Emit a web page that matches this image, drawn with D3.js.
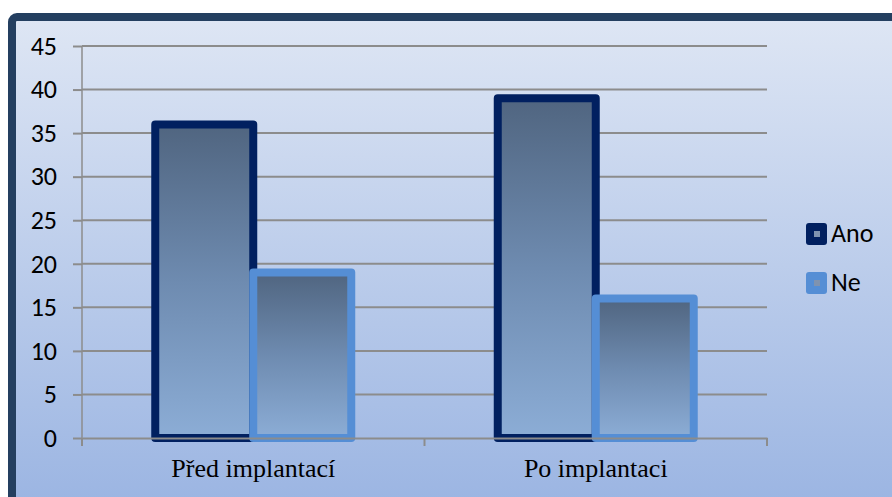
<!DOCTYPE html>
<html>
<head>
<meta charset="utf-8">
<script src="https://cdn.jsdelivr.net/npm/d3@7"></script>
<style>
  body { margin: 0; background: #fff; }
  svg { display: block; }
</style>
</head>
<body>
<svg id="chart"></svg>
<script>
// data
const categories = ["Před implantací", "Po implantaci"];
const seriesNames = ["Ano", "Ne"];
const anoValues = [36, 39];
const neValues = [19, 16];
const yTicks = [0, 5, 10, 15, 20, 25, 30, 35, 40, 45];

const width = 892, height = 497;
const plotLeft = 82, plotRight = 767, plotTop = 46, plotBottom = 438;
const seriesColors = ["#012060", "#558ED5"];

const svg = d3.select("#chart").attr("width", width).attr("height", height);
const defs = svg.append("defs");

let bg = defs.append("linearGradient").attr("id", "bg").attr("x1", 0).attr("y1", 0).attr("x2", 0).attr("y2", 1);
bg.append("stop").attr("offset", "0%").attr("stop-color", "#DEE6F4");
bg.append("stop").attr("offset", "100%").attr("stop-color", "#9AB4E2");

let barGrad = defs.append("linearGradient").attr("id", "barGrad").attr("x1", 0).attr("y1", 0).attr("x2", 0).attr("y2", 1);
barGrad.append("stop").attr("offset", "0%").attr("stop-color", "#506580");
barGrad.append("stop").attr("offset", "50%").attr("stop-color", "#6E8BB0");
barGrad.append("stop").attr("offset", "100%").attr("stop-color", "#8CADD6");

// frame (cut off on right and bottom)
svg.append("rect")
    .attr("x", 12).attr("y", 17)
    .attr("width", width + 20).attr("height", height)
    .attr("rx", 5)
    .attr("fill", "url(#bg)")
    .attr("stroke", "#243F60")
    .attr("stroke-width", 8);

const x0 = d3.scaleBand().domain(categories).range([plotLeft, plotRight]).paddingInner(0).paddingOuter(0);
const x1 = d3.scaleBand().domain(seriesNames).range([0, 196]);
const y = d3.scaleLinear().domain([0, 45]).range([plotBottom, plotTop]);

// gridlines
svg.append("g")
    .selectAll("line")
    .data(yTicks.filter(d => d > 0))
    .join("line")
    .attr("x1", plotLeft).attr("x2", plotRight)
    .attr("y1", d => y(d)).attr("y2", d => y(d))
    .attr("stroke", "#8C8C8C")
    .attr("stroke-width", 2);

// y axis
const yAxis = d3.axisLeft(y).tickValues(yTicks).tickSize(9).tickPadding(16);
const gy = svg.append("g").attr("transform", `translate(${plotLeft},0)`).call(yAxis);
gy.select(".domain").attr("stroke", "#8C8C8C").attr("stroke-width", 1.5).attr("d", `M0,${plotTop}V${plotBottom}`);
gy.selectAll(".tick line").attr("stroke", "#8C8C8C").attr("stroke-width", 2);
gy.selectAll(".tick text")
    .style("font-family", "Carlito, 'Open Sans', sans-serif")
    .style("font-size", "26px")
    .attr("fill", "#000");

// bars
const groups = svg.append("g")
    .selectAll("g")
    .data(categories.map((c, i) => ({ cat: c, vals: [anoValues[i], neValues[i]] })))
    .join("g")
    .attr("transform", d => `translate(${x0(d.cat) + (x0.bandwidth() - 196) / 2},0)`);

groups.selectAll("rect")
    .data(d => d.vals.map((v, j) => ({ name: seriesNames[j], value: v, j: j })))
    .join("rect")
    .attr("x", d => x1(d.name))
    .attr("y", d => y(d.value))
    .attr("width", x1.bandwidth())
    .attr("height", d => y(0) - y(d.value))
    .attr("fill", "url(#barGrad)")
    .attr("stroke", d => seriesColors[d.j])
    .attr("stroke-width", 8)
    .attr("stroke-linejoin", "round");

// x axis
const xAxis = d3.axisBottom(x0).tickSize(0).tickPadding(21);
const gx = svg.append("g").attr("transform", `translate(0,${plotBottom})`).call(xAxis);
gx.select(".domain").attr("stroke", "#8C8C8C").attr("stroke-width", 2);
gx.selectAll(".tick text")
    .style("font-family", "'Liberation Serif', 'Times New Roman', serif")
    .style("font-size", "26px")
    .attr("fill", "#000");
svg.append("g")
    .selectAll("line")
    .data([plotLeft, x0(categories[1]), plotRight])
    .join("line")
    .attr("x1", d => d).attr("x2", d => d)
    .attr("y1", plotBottom).attr("y2", plotBottom + 8)
    .attr("stroke", "#8C8C8C")
    .attr("stroke-width", 2);

// legend
const legend = svg.append("g").attr("transform", "translate(806,223)");
const items = legend.selectAll("g")
    .data(seriesNames)
    .join("g")
    .attr("transform", (d, i) => `translate(0,${i * 49})`);
items.append("rect")
    .attr("width", 21).attr("height", 22).attr("rx", 3)
    .attr("fill", (d, i) => seriesColors[i]);
items.append("rect")
    .attr("x", 8).attr("y", 8).attr("width", 6).attr("height", 6)
    .attr("fill", "#7F93B0");
items.append("text")
    .attr("x", 25).attr("y", 19)
    .style("font-family", "Carlito, 'Open Sans', sans-serif")
    .style("font-size", "26px")
    .text(d => d);
</script>
</body>
</html>
